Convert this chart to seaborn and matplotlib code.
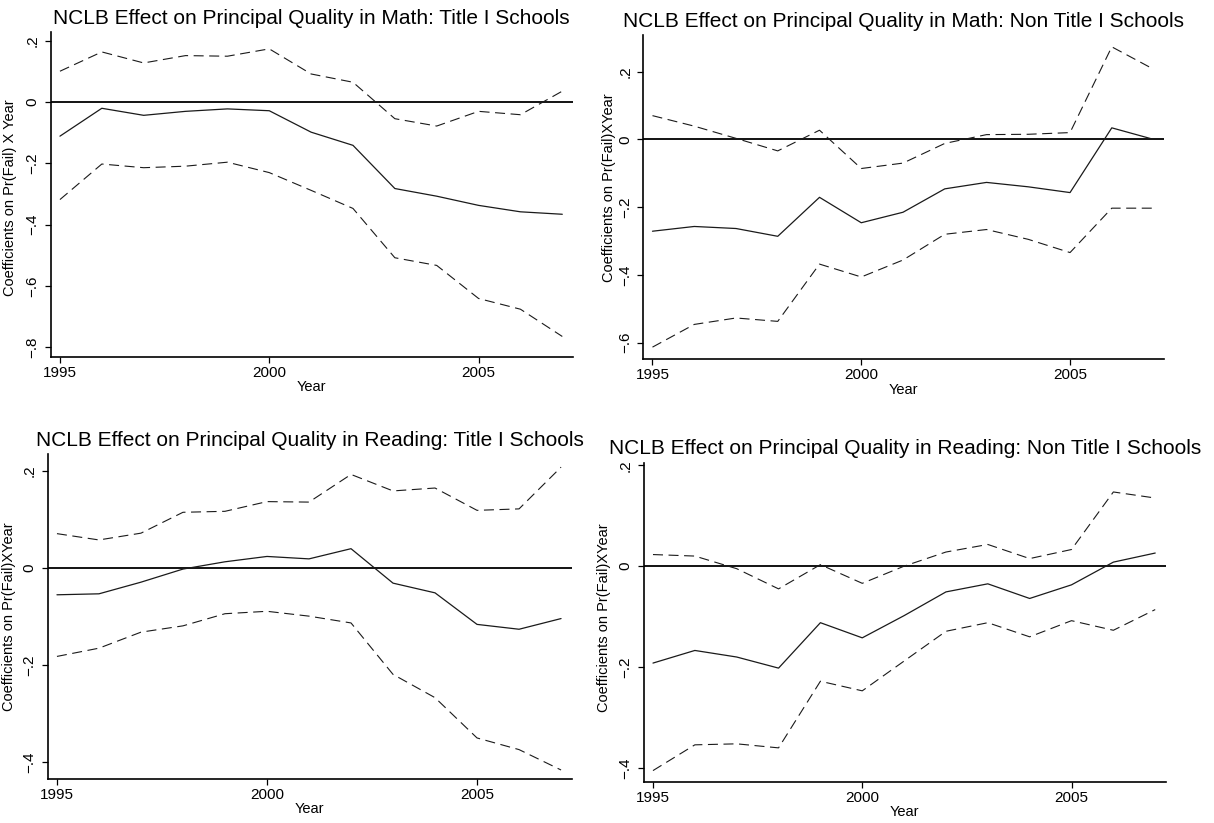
import matplotlib
matplotlib.use("Agg")
import matplotlib.pyplot as plt
from matplotlib.ticker import FuncFormatter, FixedLocator
import seaborn as sns
import pandas as pd

# Event-study years
years = list(range(1995, 2008))

# Math, Title I schools
math_t1_coef = [-0.111, -0.020, -0.043, -0.030, -0.022, -0.028, -0.098, -0.141, -0.282, -0.307, -0.337, -0.358, -0.366]
math_t1_upper = [0.101, 0.164, 0.128, 0.152, 0.150, 0.174, 0.092, 0.065, -0.054, -0.078, -0.030, -0.041, 0.036]
math_t1_lower = [-0.318, -0.202, -0.214, -0.209, -0.196, -0.230, -0.288, -0.347, -0.508, -0.533, -0.641, -0.676, -0.765]

# Math, Non Title I schools
math_nt1_coef = [-0.271, -0.257, -0.263, -0.286, -0.171, -0.246, -0.215, -0.146, -0.127, -0.140, -0.157, 0.034, 0.000]
math_nt1_upper = [0.070, 0.039, 0.003, -0.034, 0.027, -0.086, -0.070, -0.012, 0.014, 0.015, 0.020, 0.273, 0.207]
math_nt1_lower = [-0.613, -0.546, -0.527, -0.537, -0.368, -0.406, -0.356, -0.280, -0.266, -0.295, -0.334, -0.203, -0.203]

# Reading, Title I schools
read_t1_coef = [-0.055, -0.053, -0.029, -0.002, 0.013, 0.024, 0.019, 0.040, -0.031, -0.051, -0.116, -0.126, -0.104]
read_t1_upper = [0.071, 0.058, 0.072, 0.115, 0.117, 0.137, 0.136, 0.193, 0.159, 0.165, 0.119, 0.122, 0.208]
read_t1_lower = [-0.182, -0.165, -0.132, -0.119, -0.094, -0.089, -0.099, -0.113, -0.219, -0.267, -0.350, -0.374, -0.416]

# Reading, Non Title I schools
read_nt1_coef = [-0.192, -0.167, -0.180, -0.202, -0.112, -0.142, -0.098, -0.051, -0.035, -0.064, -0.037, 0.008, 0.026]
read_nt1_upper = [0.023, 0.020, -0.005, -0.045, 0.003, -0.034, 0.000, 0.028, 0.043, 0.015, 0.033, 0.147, 0.135]
read_nt1_lower = [-0.405, -0.354, -0.352, -0.360, -0.228, -0.247, -0.188, -0.129, -0.112, -0.140, -0.108, -0.127, -0.086]

titles = [
    "NCLB Effect on Principal Quality in Math: Title I Schools",
    "NCLB Effect on Principal Quality in Math: Non Title I Schools",
    "NCLB Effect on Principal Quality in Reading: Title I Schools",
    "NCLB Effect on Principal Quality in Reading: Non Title I Schools",
]
ylabels = [
    "Coefficients on Pr(Fail) X Year",
    "Coefficients on Pr(Fail)XYear",
    "Coefficients on Pr(Fail)XYear",
    "Coefficients on Pr(Fail)XYear",
]
xticks = [1995, 2000, 2005]
yticks = [
    [0.2, 0.0, -0.2, -0.4, -0.6, -0.8],
    [0.2, 0.0, -0.2, -0.4, -0.6],
    [0.2, 0.0, -0.2, -0.4],
    [0.2, 0.0, -0.2, -0.4],
]

panels = [
    (math_t1_coef, math_t1_upper, math_t1_lower),
    (math_nt1_coef, math_nt1_upper, math_nt1_lower),
    (read_t1_coef, read_t1_upper, read_t1_lower),
    (read_nt1_coef, read_nt1_upper, read_nt1_lower),
]

sns.set_style("ticks")
plt.rcParams["font.family"] = ["Liberation Sans", "DejaVu Sans"]
plt.rcParams.update({
    "text.color": "black",
    "axes.labelcolor": "black",
    "xtick.color": "black",
    "ytick.color": "black",
    "xtick.labelcolor": "black",
    "ytick.labelcolor": "black",
})

fig = plt.figure(figsize=(12.14, 8.23), dpi=100)

# axes boxes [left, bottom, width, height]
boxes = [
    [0.0418, 0.5666, 0.4300, 0.3945],
    [0.5299, 0.5638, 0.4289, 0.3937],
    [0.0393, 0.0538, 0.4315, 0.3945],
    [0.5303, 0.0502, 0.4299, 0.3876],
]
ylims = [(-0.831, 0.229), (-0.648, 0.308), (-0.434, 0.235), (-0.427, 0.205)]
xlim = (1994.78, 2007.25)
ylabel_pos = [(-0.064, 0.49), (-0.053, 0.53), (-0.060, 0.50), (-0.063, 0.515)]


def stata_num(v, pos=None):
    if abs(v) < 1e-9:
        return "0"
    s = f"{abs(v):.1f}".lstrip("0")
    return ("\u2212" if v < 0 else "") + s


line_color = "#1a1a1a"
dash_style = (0, (9, 5))

for i, (coef, upper, lower) in enumerate(panels):
    ax = fig.add_axes(boxes[i])
    df = pd.DataFrame({"Year": years, "coef": coef, "upper": upper, "lower": lower})

    ax.axhline(0, color="black", lw=1.3, zorder=1)
    sns.lineplot(data=df, x="Year", y="upper", ax=ax, color=line_color,
                 lw=0.8, linestyle=dash_style)
    sns.lineplot(data=df, x="Year", y="coef", ax=ax, color=line_color, lw=0.9)
    sns.lineplot(data=df, x="Year", y="lower", ax=ax, color=line_color,
                 lw=0.8, linestyle=dash_style)

    ax.set_xlim(*xlim)
    ax.set_ylim(*ylims[i])
    ax.xaxis.set_major_locator(FixedLocator(xticks))
    ax.yaxis.set_major_locator(FixedLocator(yticks[i]))
    ax.yaxis.set_major_formatter(FuncFormatter(stata_num))
    ax.tick_params(axis="both", direction="out", length=4, width=0.9,
                   labelsize=11, color="black", labelcolor="black")
    ax.tick_params(axis="y", pad=4)
    ax.tick_params(axis="x", pad=2.5)
    for lab in ax.get_yticklabels():
        lab.set_rotation(90)
        lab.set_va("center")

    for side in ("top", "right"):
        ax.spines[side].set_visible(False)
    for side in ("left", "bottom"):
        ax.spines[side].set_linewidth(1.2)
        ax.spines[side].set_color("black")

    ax.set_title(titles[i], fontsize=15, pad=6, color="black")
    ax.set_xlabel("Year", fontsize=10.5, labelpad=0.5, color="black")
    ax.set_ylabel(ylabels[i], fontsize=10.5, color="black")
    ax.yaxis.set_label_coords(*ylabel_pos[i])

fig.savefig("out.png", dpi=100, facecolor="white")
